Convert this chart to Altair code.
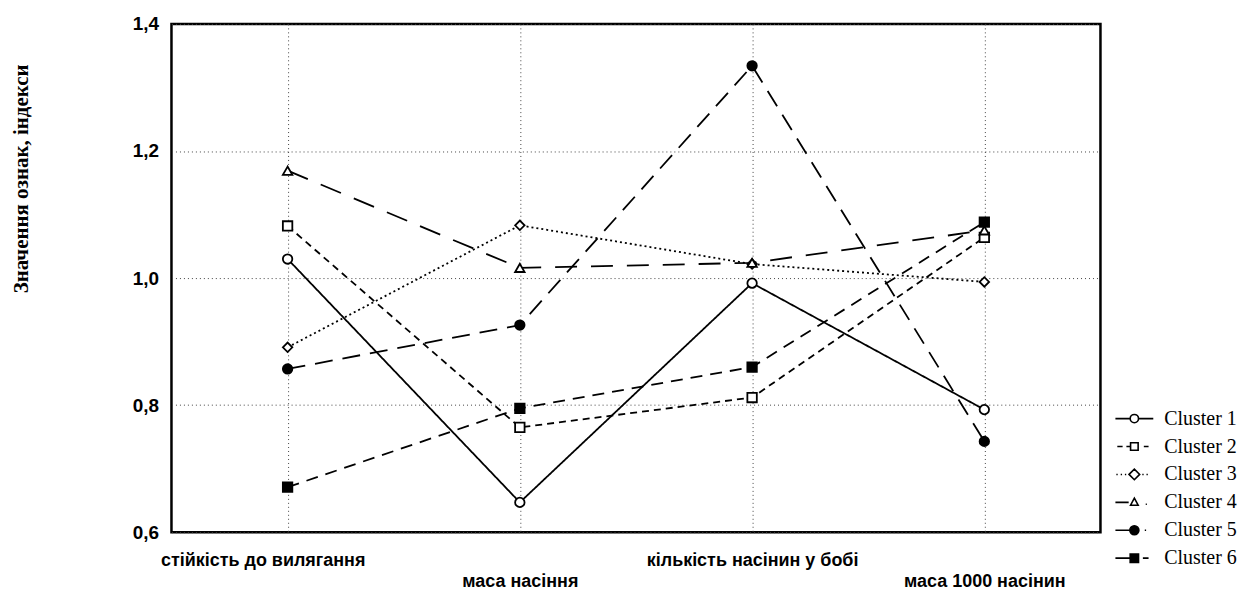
import altair as alt
import pandas as pd

traits = ["стійкість до вилягання", "маса насіння", "кількість насінин у бобі", "маса 1000 насінин"]
clusters = ["Cluster 1", "Cluster 2", "Cluster 3", "Cluster 4", "Cluster 5", "Cluster 6"]

c1 = [1.030, 0.647, 0.992, 0.793]
c2 = [1.082, 0.765, 0.812, 1.064]
c3 = [0.891, 1.083, 1.022, 0.994]
c4 = [1.169, 1.016, 1.024, 1.075]
c5 = [0.857, 0.926, 1.334, 0.743]
c6 = [0.671, 0.795, 0.860, 1.088]

y_ticks = [0.6, 0.8, 1.0, 1.2, 1.4]

series = [c1, c2, c3, c4, c5, c6]
rows = []
for name, vals in zip(clusters, series):
    for t, v in zip(traits, vals):
        rows.append({"Cluster": name, "trait": t, "value": v})
df = pd.DataFrame(rows)

dashes = [[1, 0], [7, 5], [2, 3], [22, 14], [18, 10], [12, 8]]
shapes = ["circle", "square", "diamond", "triangle-up", "circle", "square"]
fills = ["white", "white", "white", "white", "black", "black"]
strokes = ["black"] * 6

# legend symbols: short line + marker (custom SVG paths in unit coords)
circ = "M-0.22,0A0.22,0.22 0 1,1 0.22,0A0.22,0.22 0 1,1 -0.22,0Z"
sq = "M-0.2,-0.2H0.2V0.2H-0.2Z"
legend_paths = [
    "M-1,0H-0.22M0.22,0H1" + circ,
    "M-0.9,0H-0.62M-0.42,0H-0.22M0.5,0H0.75" + sq,
    "M-0.95,0H-0.88M-0.72,0H-0.65M-0.5,0H-0.43M0.42,0H0.49M0.64,0H0.71M-0.28,0L0,-0.28L0.28,0L0,0.28Z",
    "M-1,0H-0.3M0.6,0.1H0.66M0,-0.22L0.2,0.15H-0.2Z",
    "M-1,0H-0.24M0.55,0H0.62" + "M-0.24,0A0.24,0.24 0 1,1 0.24,0A0.24,0.24 0 1,1 -0.24,0Z",
    "M-1,0H-0.22M0.45,0H0.75" + "M-0.22,-0.22H0.22V0.22H-0.22Z",
]

x_enc = alt.X(
    "trait:N",
    sort=traits,
    scale=alt.Scale(domain=traits, padding=0.5),
    axis=alt.Axis(
        title=None,
        labelAngle=0,
        labelFont="Liberation Sans",
        labelFontWeight="bold",
        labelFontSize=18,
        labelColor="black",
        labelPadding=19,
        labelLineHeight=21,
        labelLimit=500,
        labelOffset={"condition": {"test": "datum.value == 'стійкість до вилягання'", "value": -25}, "value": 0},
        labelExpr="(datum.value == 'маса насіння' || datum.value == 'маса 1000 насінин') ? ['', datum.label] : datum.label",
        ticks=False,
        domain=False,
        grid=True,
        gridColor="#444",
        gridDash=[1, 3],
        gridWidth=1,
    ),
)
y_enc = alt.Y(
    "value:Q",
    scale=alt.Scale(domain=[0.6, 1.4], nice=False, zero=False),
    axis=alt.Axis(
        values=y_ticks,
        title="Значення ознак, індекси",
        titleFont="Liberation Serif",
        titleFontWeight="bold",
        titleFontSize=21,
        titleColor="black",
        titleX=-150,
        titleY=155,
        titleAngle=-90,
        titleAlign="center",
        titleBaseline="middle",
        labelExpr="replace(format(datum.value, '.1f'), '.', ',')",
        labelFont="Liberation Sans",
        labelFontWeight="bold",
        labelFontSize=19,
        labelColor="black",
        labelPadding=13,
        ticks=False,
        domain=False,
        grid=True,
        gridColor="#444",
        gridDash=[1, 3],
        gridWidth=1,
    ),
)

base = alt.Chart(df)

lines = base.mark_line(color="black", strokeWidth=1.8).encode(
    x=x_enc,
    y=y_enc,
    detail="Cluster:N",
    strokeDash=alt.StrokeDash("Cluster:N", scale=alt.Scale(domain=clusters, range=dashes), legend=None),
)

points = base.mark_point(filled=True, stroke="black", strokeWidth=1.8, size=90, opacity=1).encode(
    x=alt.X("trait:N", sort=traits),
    y="value:Q",
    shape=alt.Shape("Cluster:N", scale=alt.Scale(domain=clusters, range=shapes), legend=None),
    fill=alt.Fill("Cluster:N", scale=alt.Scale(domain=clusters, range=fills), legend=None),
)

leg = alt.Legend(
    title=None,
    orient="none",
    legendX=946,
    legendY=382,
    symbolSize=1444,
    symbolStrokeWidth=1.6,
    symbolStrokeColor="black",
    labelFont="Liberation Serif",
    labelFontSize=20,
    labelColor="black",
    labelOffset=10,
    labelLimit=200,
    clipHeight=28,
    rowPadding=0,
    padding=0,
)

legend_layer = base.transform_filter("false").mark_point(strokeWidth=1.6, opacity=1).encode(
    x=alt.X("trait:N", sort=traits),
    y="value:Q",
    shape=alt.Shape("Cluster:N", scale=alt.Scale(domain=clusters, range=legend_paths), legend=leg),
    fill=alt.Fill("Cluster:N", scale=alt.Scale(domain=clusters, range=fills), legend=leg),
    stroke=alt.Stroke("Cluster:N", scale=alt.Scale(domain=clusters, range=strokes), legend=leg),
)

chart = (
    alt.layer(lines, points, legend_layer)
    .resolve_scale(shape="independent", fill="independent", stroke="independent")
    .properties(
        width=932,
        height=510,
        autosize=alt.AutoSizeParams(type="none"),
        padding={"left": 164, "top": 15, "right": 144, "bottom": 58},
        background="white",
    )
    .configure_view(stroke="black", strokeWidth=2.5)
)

chart.save("out.html", embed_options={"renderer": "svg", "actions": False})
